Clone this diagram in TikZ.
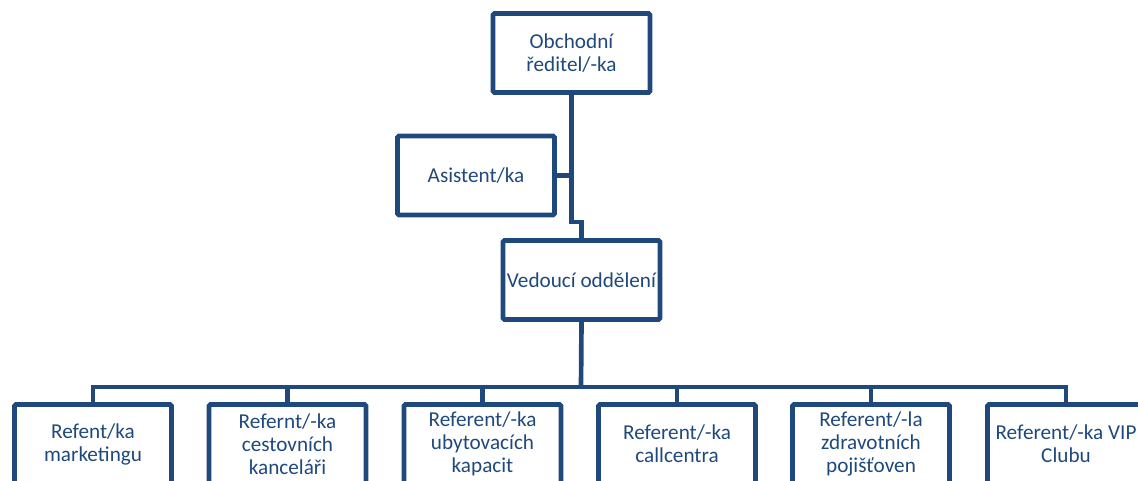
\documentclass[tikz,border=0pt]{standalone}
\usepackage{fontspec}
\setmainfont{Carlito}
\definecolor{orgblue}{HTML}{1F497D}
\begin{document}
\begin{tikzpicture}[x=0.75pt,y=-0.75pt,
  unit/.style={draw=orgblue, line width=3.5pt, rounded corners=1pt,
    minimum width=117.75pt, minimum height=59.25pt, inner sep=0pt,
    align=center, text=orgblue,
    font=\fontsize{15.9pt}{17.25pt}\selectfont},
  link/.style={draw=orgblue, line width=3.5pt}]
\useasboundingbox (0,0) rectangle (1138,480);
\clip (0,0) rectangle (1138,480);

% management
\node[unit] (top) at (571.5,53) {Obchodní\\ředitel/-ka};
\node[unit] (asist) at (476,175.5) {Asistent/ka};
\node[unit] (ved) at (581.5,280) {Vedoucí oddělení};

% staff
\node[unit] (b1) at (93,444) {Refent/ka\\marketingu};
\node[unit] (b2) at (287.5,444) {Refernt/-ka\\cestovních\\kanceláři};
\node[unit] (b3) at (482.5,444) {Referent/-ka\\ubytovacích\\kapacit};
\node[unit] (b4) at (677,444) {Referent/-ka\\callcentra};
\node[unit] (b5) at (871,444) {Referent/-la\\zdravotních\\pojišťoven};
\node[unit] (b6) at (1066,444) {Referent/-ka VIP\\Clubu};

% connectors
\coordinate (jog) at (576,222);
\coordinate (bus) at (581,387);
\draw[link] (top.south) |- (jog) -| (ved.north);
\draw[link] (asist.east) -- (asist.east -| top.south);
\draw[link] (ved.south) -- (bus);
\draw[link] (b1.north) -- (b1.north |- bus) -- (b6.north |- bus) -- (b6.north);
\foreach \b in {b2,b3,b4,b5}
  \draw[link] (\b.north) -- (\b.north |- bus);
\end{tikzpicture}
\end{document}
